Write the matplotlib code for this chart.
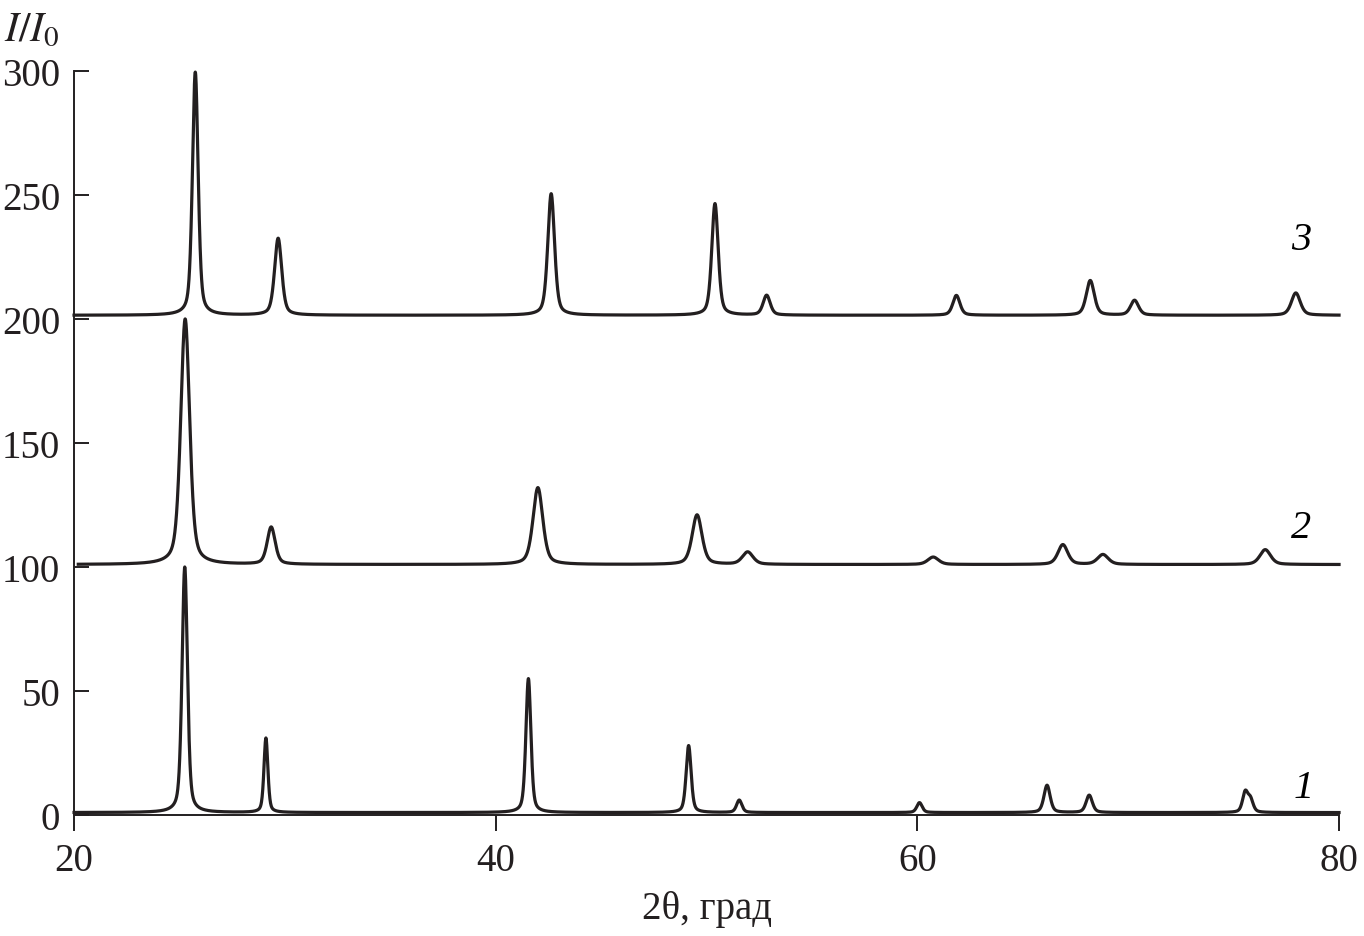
import numpy as np
from matplotlib import pyplot as plt

plt.rcParams['font.family'] = ['Liberation Serif', 'DejaVu Serif']
plt.rcParams['mathtext.fontset'] = 'stix'

# peak positions (2theta), heights above baseline and FWHM for each pattern
pos1 = [25.25, 29.1, 41.55, 49.15, 51.55, 60.1, 66.15, 68.15, 75.55, 75.8]
amp1 = [99, 30, 54, 27, 5, 4, 11, 7, 8, 5]
fwhm1 = [0.30, 0.22, 0.28, 0.28, 0.3, 0.3, 0.35, 0.35, 0.3, 0.3]
base1 = 1

pos2 = [25.27, 29.35, 42.0, 49.55, 51.95, 60.75, 66.9, 68.8, 76.5]
amp2 = [99, 15, 31, 20, 5, 3, 8, 4, 6]
fwhm2 = [0.5, 0.45, 0.55, 0.55, 0.6, 0.6, 0.55, 0.6, 0.6]
base2 = 101

pos3 = [25.75, 29.68, 42.63, 50.4, 52.85, 61.85, 68.2, 70.3, 77.95]
amp3 = [98, 31, 49, 45, 8, 8, 14, 6, 9]
fwhm3 = [0.32, 0.4, 0.38, 0.36, 0.4, 0.4, 0.45, 0.45, 0.5]
base3 = 201.5

labels = ['1', '2', '3']
label_x = [78.3, 78.2, 78.2]
label_y = [11, 116, 232]


def profile(x, pos, amp, fwhm, base):
    y = np.full_like(x, base, dtype=float)
    for p, a, w in zip(pos, amp, fwhm):
        g = np.exp(-4 * np.log(2) * ((x - p) / w) ** 2)
        l = 1 / (1 + 4 * ((x - p) / w) ** 2)
        y += a * (0.55 * g + 0.45 * l)
    return y


x = np.linspace(20, 80, 6001)
x2 = np.linspace(20.2, 80, 5981)

fig = plt.figure(figsize=(13.64, 9.37), dpi=100)
ax = fig.add_axes([0.0543, 0.1291, 0.9274, 0.7941])

ax.plot(x, profile(x, pos1, amp1, fwhm1, base1), color='#231f20', lw=2.3, clip_on=False)
ax.plot(x2, profile(x2, pos2, amp2, fwhm2, base2), color='#231f20', lw=2.3, clip_on=False)
ax.plot(x, profile(x, pos3, amp3, fwhm3, base3), color='#231f20', lw=2.3, clip_on=False)

for lab, lx, ly in zip(labels, label_x, label_y):
    ax.text(lx, ly, lab, fontsize=29, style='italic', ha='center', va='center')

ax.set_xlim(20, 80)
ax.set_ylim(0, 300)
ax.set_xticks([20, 40, 60, 80])
ax.set_yticks([0, 50, 100, 150, 200, 250, 300])
for s in ['top', 'right']:
    ax.spines[s].set_visible(False)
for s in ['left', 'bottom']:
    ax.spines[s].set_linewidth(1.4)
    ax.spines[s].set_color('#231f20')

ax.tick_params(axis='x', direction='out', length=11.5, width=1.4, pad=8,
               labelsize=28, colors='#231f20')
ax.tick_params(axis='y', direction='in', length=11, width=1.4, pad=10,
               labelsize=28, colors='#231f20')

ax.set_xlabel('2θ, град', fontsize=28, labelpad=8, color='#231f20')
fig.text(0.003, 0.967, r'$I/I_0$', fontsize=30, ha='left', va='center', color='#231f20')

fig.savefig('out.png', dpi=100)
